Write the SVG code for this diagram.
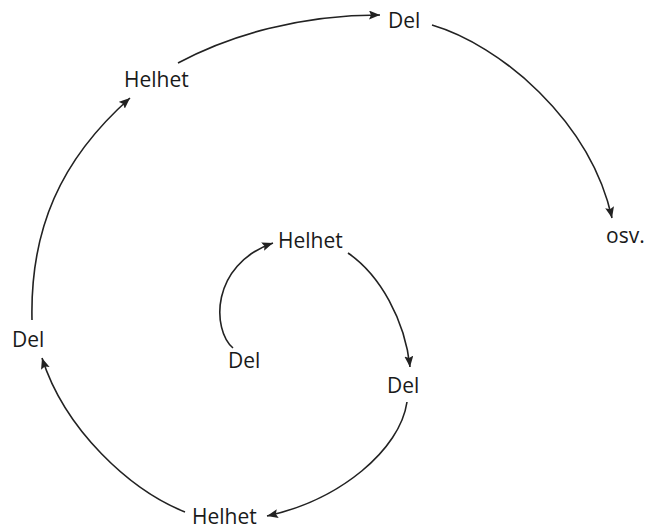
<svg xmlns="http://www.w3.org/2000/svg" width="647" height="531" viewBox="0 0 647 531">
  <defs>
    <style>
      .lbl { font-family: "Open Sans", "Liberation Sans", sans-serif; font-size: 21px; fill: #1a1a1a; }
      .edge { fill: none; stroke: #222; stroke-width: 1.6; marker-end: url(#arr); }
    </style>
    <marker id="arr" markerUnits="userSpaceOnUse" markerWidth="12" markerHeight="10" refX="11" refY="4.5" orient="auto">
      <path d="M0,0 L11,4.5 L0,9 L2,4.5 z" fill="#222"/>
    </marker>
  </defs>
  <rect width="647" height="531" fill="#fff"/>
  <g id="connectors">
    <path class="edge" d="M233,348 C212,330 210,265 273,243"/>
    <path class="edge" d="M348,253 C380,275 405,320 410,367"/>
    <path class="edge" d="M407,402 C400,450 340,500 267,516"/>
    <path class="edge" d="M185,512 C130,490 65,430 42,358"/>
    <path class="edge" d="M32,320 C30,230 60,160 130,98"/>
    <path class="edge" d="M178,63 C230,35 300,15 380,15"/>
    <path class="edge" d="M432,25 C500,45 590,120 612,218"/>
  </g>
  <g id="n-del-center"><text class="lbl" x="228" y="368">Del</text></g>
  <g id="n-helhet-center"><text class="lbl" x="278" y="248">Helhet</text></g>
  <g id="n-del-right"><text class="lbl" x="387" y="393">Del</text></g>
  <g id="n-helhet-bottom"><text class="lbl" x="192" y="524">Helhet</text></g>
  <g id="n-del-left"><text class="lbl" x="12" y="347">Del</text></g>
  <g id="n-helhet-top"><text class="lbl" x="124" y="87">Helhet</text></g>
  <g id="n-del-top"><text class="lbl" x="388" y="28">Del</text></g>
  <g id="n-osv"><text class="lbl" x="606" y="243">osv.</text></g>
</svg>
